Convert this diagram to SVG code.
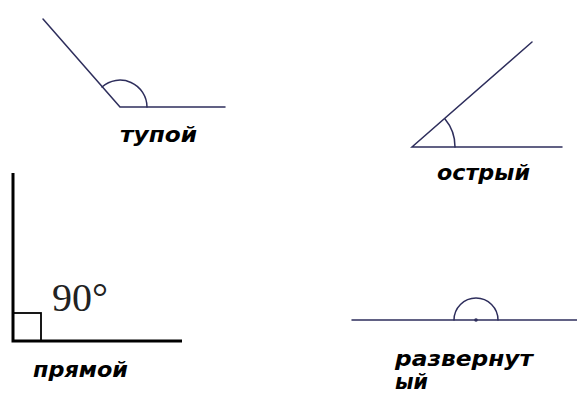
<svg xmlns="http://www.w3.org/2000/svg" width="577" height="394" viewBox="0 0 577 394">
<style>
.ln{stroke:#2e2e5c;stroke-width:1.5;fill:none;stroke-linecap:round}
.bk{stroke:#000;fill:none}
.lbl{font-family:"DejaVu Sans",sans-serif;font-weight:bold;font-style:italic;font-size:22px;fill:#000}
</style>
<rect width="577" height="394" fill="#fff"/>
<g id="obtuse">
<path class="ln" d="M43,19 L120,107 L225,107"/>
<path class="ln" d="M147,107 A27,27 0 0 0 102,87"/>
<text class="lbl" x="120" y="142" textLength="77" lengthAdjust="spacingAndGlyphs">тупой</text>
</g>
<g id="acute">
<path class="ln" d="M532,42 L412,147 L562,147"/>
<path class="ln" d="M455,147 A43,43 0 0 0 445,119"/>
<text class="lbl" x="437" y="180" textLength="93" lengthAdjust="spacingAndGlyphs">острый</text>
</g>
<g id="right">
<path class="bk" stroke-width="3" d="M13,173 L13,341 L182,341"/>
<rect class="bk" stroke-width="1.8" x="13" y="313" width="28" height="28"/>
<text x="52" y="311" font-family="'Liberation Serif',serif" font-size="40" fill="#222">90°</text>
<text class="lbl" x="33" y="377" textLength="95" lengthAdjust="spacingAndGlyphs">прямой</text>
</g>
<g id="straight">
<path class="ln" d="M352,320 L577,320"/>
<path class="ln" d="M454,320 A22,22 0 0 1 498,320"/>
<circle cx="476" cy="320" r="1.8" fill="#2e2e5c"/>
<text class="lbl" x="395" y="366" textLength="138" lengthAdjust="spacingAndGlyphs">развернут</text>
<text class="lbl" x="395" y="389" textLength="33" lengthAdjust="spacingAndGlyphs">ый</text>
</g>
</svg>
